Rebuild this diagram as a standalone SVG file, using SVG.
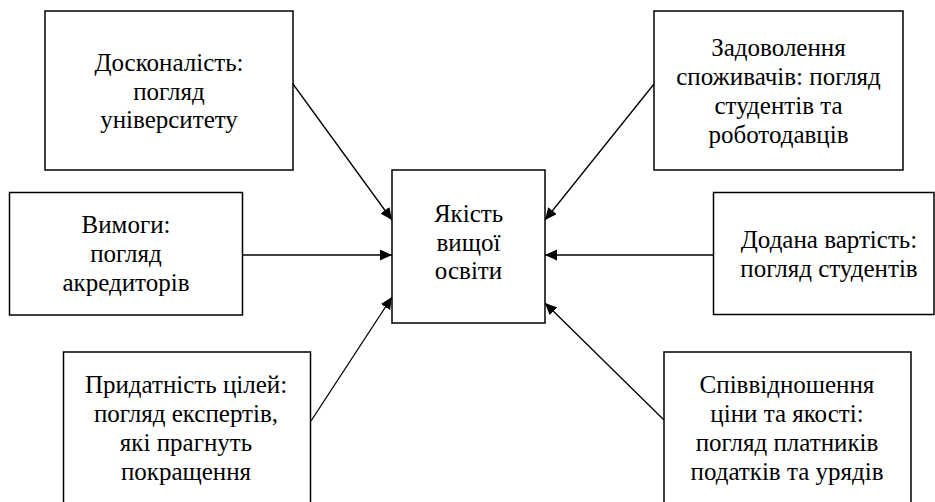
<svg xmlns="http://www.w3.org/2000/svg" width="935" height="502" viewBox="0 0 935 502">
<style>
.box{fill:#fff;stroke:#000;stroke-width:1.5}
.lbl{font-family:'Liberation Serif','Times New Roman',serif;font-size:25px;fill:#000;text-anchor:middle}
.con{stroke:#000;stroke-width:1.3;fill:none;marker-end:url(#ah)}
</style>
<defs>
<marker id="ah" markerUnits="userSpaceOnUse" markerWidth="13" markerHeight="12" refX="12" refY="5.5" orient="auto">
<path d="M0,0 L12,5.5 L0,11 z" fill="#000"/>
</marker>
</defs>
<rect width="935" height="502" fill="#fff"/>
<g id="n-doskonalist">
<rect class="box" x="45" y="11" width="248" height="159"/>
<text class="lbl" x="169" y="71">Досконалість:</text>
<text class="lbl" x="169" y="99.5">погляд</text>
<text class="lbl" x="169" y="128">університету</text>
</g>
<g id="n-vymohy">
<rect class="box" x="9.5" y="192.5" width="233" height="122.5"/>
<text class="lbl" x="126" y="233">Вимоги:</text>
<text class="lbl" x="126" y="262">погляд</text>
<text class="lbl" x="126" y="291">акредиторів</text>
</g>
<g id="n-center">
<rect class="box" x="392" y="170" width="153" height="153"/>
<text class="lbl" x="468.5" y="222">Якість</text>
<text class="lbl" x="468.5" y="250.5">вищої</text>
<text class="lbl" x="468.5" y="279">освіти</text>
</g>
<g id="n-zadovolennia">
<rect class="box" x="654" y="11" width="249" height="159"/>
<text class="lbl" x="778.5" y="56">Задоволення</text>
<text class="lbl" x="778.5" y="85">споживачів: погляд</text>
<text class="lbl" x="778.5" y="114">студентів та</text>
<text class="lbl" x="778.5" y="143">роботодавців</text>
</g>
<g id="n-dodana">
<rect class="box" x="713.5" y="192.5" width="220.5" height="122"/>
<text class="lbl" x="829" y="248">Додана вартість:</text>
<text class="lbl" x="829" y="277">погляд студентів</text>
</g>
<g id="n-prydatnist">
<rect class="box" x="63.5" y="352" width="247" height="170"/>
<text class="lbl" x="186" y="393">Придатність цілей:</text>
<text class="lbl" x="186" y="422">погляд експертів,</text>
<text class="lbl" x="186" y="450.5">які прагнуть</text>
<text class="lbl" x="186" y="479.5">покращення</text>
</g>
<g id="n-spivvidnoshennia">
<rect class="box" x="664" y="352" width="247" height="170"/>
<text class="lbl" x="787" y="393">Співвідношення</text>
<text class="lbl" x="787" y="422">ціни та якості:</text>
<text class="lbl" x="787" y="450.5">погляд платників</text>
<text class="lbl" x="787" y="479.5">податків та урядів</text>
</g>
<g id="connectors">
<line class="con" x1="293" y1="84" x2="392" y2="220"/>
<line class="con" x1="242" y1="255" x2="392" y2="255"/>
<line class="con" x1="654" y1="84" x2="545" y2="220"/>
<line class="con" x1="713" y1="255" x2="545" y2="255"/>
<line class="con" x1="311" y1="421" x2="392" y2="297"/>
<line class="con" x1="664" y1="420" x2="545" y2="303"/>
</g>
</svg>
